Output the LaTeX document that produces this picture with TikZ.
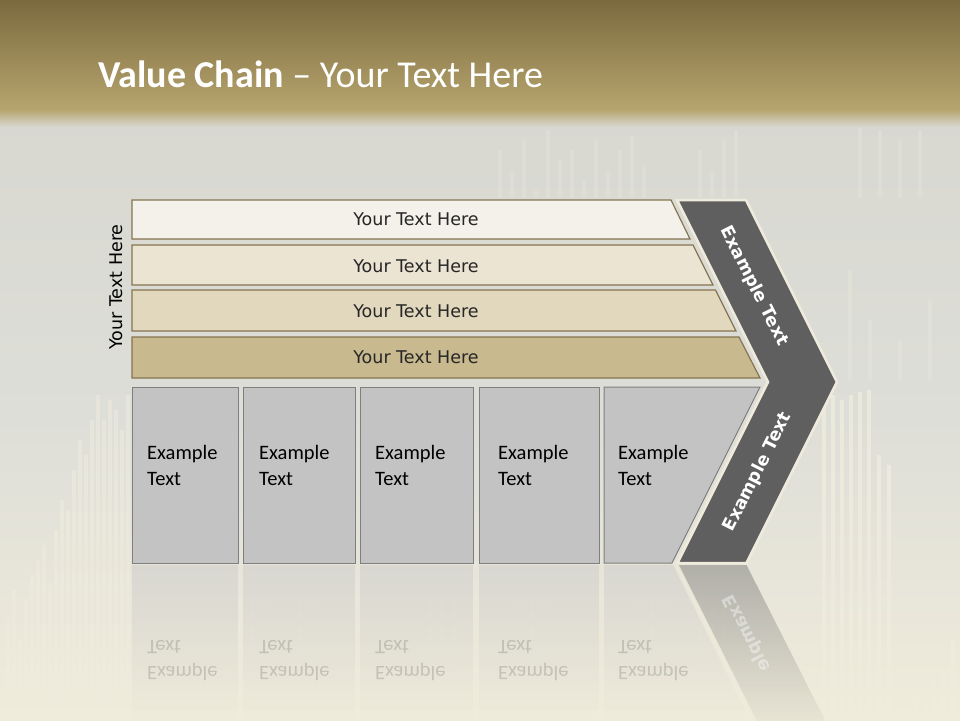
\documentclass[tikz,border=0pt]{standalone}
\usepackage{fontspec}
\setmainfont{Carlito}
\newfontfamily\dvs{DejaVu Sans}
\usetikzlibrary{fadings}
\definecolor{hdrtop}{HTML}{7B6A3D}
\definecolor{hdrbot}{HTML}{B7A56F}
\definecolor{bgtop}{HTML}{D8D8D1}
\definecolor{bgmid}{HTML}{DEDED8}
\definecolor{bgbot}{HTML}{F0ECDB}
\definecolor{barA}{HTML}{F4F1EA}
\definecolor{barB}{HTML}{EBE4D3}
\definecolor{barC}{HTML}{E2D8BE}
\definecolor{barD}{HTML}{C9B98F}
\definecolor{barline}{HTML}{857550}
\definecolor{boxfill}{HTML}{C3C3C3}
\definecolor{boxline}{HTML}{7F7F7F}
\definecolor{chev}{HTML}{5F5F5F}
\definecolor{cream}{HTML}{EFEBDC}
\definecolor{stripec}{HTML}{EFECDE}
\definecolor{txt}{HTML}{262626}
\begin{document}
\begin{tikzpicture}[x=1pt,y=-1pt,
  barshape/.style={draw=barline, line width=1.2pt},
  bartext/.style={text=txt, font=\dvs\fontsize{17.5}{20}\selectfont, inner sep=0},
  boxshape/.style={fill=boxfill, draw=boxline, line width=1pt},
  boxtext/.style={anchor=west, align=left, text=black, inner sep=0, font=\fontsize{20.5}{26}\selectfont},
  chevshape/.style={fill=chev, draw=cream, line width=2.5pt, line join=miter},
  chevtext/.style={text=white, inner sep=0, font=\dvs\bfseries\fontsize{17.5}{20}\selectfont},
  refl/.style={fill=boxfill, opacity=0.4, path fading=south},
  refltext/.style={text=black, text opacity=0.15, inner sep=0, anchor=west, align=left, font=\fontsize{20.5}{26}\selectfont},
  stripe/.style={draw=stripec, opacity=0.8, line width=3.2pt}
]
\useasboundingbox (0,0) rectangle (960,720);
% background
\shade[top color=bgtop, bottom color=bgmid] (0,110) rectangle (960,420);
\shade[top color=bgmid, bottom color=bgbot] (0,420) rectangle (960,720);
% stripes: left chart
\foreach \x/\t in {8/620,14/590,20/640,26/600,32/575,38/560,44/545,50/585,56/530,62/500,68/510,74/470,80/440,86/455,92/420,98/395,104/420,110/400,116/410,122/430,128/395}
  \draw[stripe, opacity=0.55] (\x,\t) -- (\x,720);
% right chart
\foreach \x/\t in {824/400,833/395,842/400,851/395,860/392,869/390,879/455,889/465}
  \draw[stripe] (\x,\t) -- (\x,720);
\foreach \x/\t in {916/700,926/705,934/682,944/672,953/640}
  \draw[stripe] (\x,\t) -- (\x,720);
\foreach \x/\t in {850/270,870/320,900/340,930/300}
  \draw[stripe, opacity=0.3] (\x,\t) -- (\x,380);
% bottom stripes
\foreach \x in {240,252,264,300,312,430,442,454,520,532,544,640,652,664,700,712,724}
  \draw[stripe, opacity=0.3] (\x,600) -- (\x,720);
% top faint stripes
\foreach \x/\t in {500/150,512/170,524/140,536/190,548/130,560/160,572/150,584/180,596/140,608/170,620/150,632/135,644/165,700/150,712/170,724/140,736/130,860/125,880/130,900/140,920/130}
  \draw[stripe, opacity=0.25] (\x,\t) -- (\x,198);
% header
\shade[top color=hdrtop, bottom color=hdrbot] (0,0) rectangle (960,110);
\shade[top color=hdrbot, bottom color=bgtop] (0,109.5) rectangle (960,127);
\node[anchor=west, text=white, inner sep=0, font=\fontsize{38}{42}\selectfont] (title) at (98,74) {\textbf{Value Chain} – Your Text Here};

% side label
\node[rotate=90, bartext, text=black] (side) at (116,287) {Your Text Here};

% bars
\fill[barA, barshape] (132,200) -- (671,200) -- (690,239) -- (132,239) -- cycle;
\fill[barB, barshape] (132,245) -- (693,245) -- (713,285) -- (132,285) -- cycle;
\fill[barC, barshape] (132,290) -- (715.5,290) -- (736,331) -- (132,331) -- cycle;
\fill[barD, barshape] (132,337) -- (739,337) -- (760,378) -- (132,378) -- cycle;
\node[bartext] (t1) at (416,219) {Your Text Here};
\node[bartext] (t2) at (416,266) {Your Text Here};
\node[bartext] (t3) at (416,311) {Your Text Here};
\node[bartext] (t4) at (416,357) {Your Text Here};

% boxes
\path[boxshape] (132,387) rectangle (238,563);
\path[boxshape] (243,387) rectangle (355,563);
\path[boxshape] (360,387) rectangle (473,563);
\path[boxshape] (479,387) rectangle (599,563);
\path[boxshape] (604,387) -- (760,387) -- (672,563) -- (604,563) -- cycle;
\node[boxtext] (b1) at (147,465) {Example\\Text};
\node[boxtext] (b2) at (259,465) {Example\\Text};
\node[boxtext] (b3) at (375,465) {Example\\Text};
\node[boxtext] (b4) at (498,465) {Example\\Text};
\node[boxtext] (b5) at (618,465) {Example\\Text};

% chevron
\path[chevshape] (677,200) -- (746,200) -- (837,382) -- (746.5,563) -- (677.5,563) -- (768,382) -- cycle;
\node[chevtext, rotate=-63.3] (c1) at (754,286) {Example Text};
\node[chevtext, rotate=63.3] (c2) at (758,472) {Example Text};

% reflection
\path[refl] (132,565) rectangle (238,720);
\path[refl] (243,565) rectangle (355,720);
\path[refl] (360,565) rectangle (473,720);
\path[refl] (479,565) rectangle (599,720);
\path[refl] (604,565) -- (673,565) -- (750,720) -- (604,720) -- cycle;
\path[fill=chev, opacity=0.4, path fading=south] (677.5,565) -- (746.5,565) -- (837,744) -- (768,744) -- cycle;
\draw[cream, line width=2.5pt, opacity=0.8] (677.5,565) -- (760,730);
\node[refltext] (r1) at (147,661) {\scalebox{1}[-1]{\parbox{80pt}{Example\\Text}}};
\node[refltext] (r2) at (259,661) {\scalebox{1}[-1]{\parbox{80pt}{Example\\Text}}};
\node[refltext] (r3) at (375,661) {\scalebox{1}[-1]{\parbox{80pt}{Example\\Text}}};
\node[refltext] (r4) at (498,661) {\scalebox{1}[-1]{\parbox{80pt}{Example\\Text}}};
\node[refltext] (r5) at (618,661) {\scalebox{1}[-1]{\parbox{80pt}{Example\\Text}}};
\begin{scope}
\clip (600,565) rectangle (900,672);
\node[chevtext, text opacity=0.4, rotate=-63.3] (rc) at (758,654) {\scalebox{1}[-1]{Example Text}};
\end{scope}
\end{tikzpicture}
\end{document}
